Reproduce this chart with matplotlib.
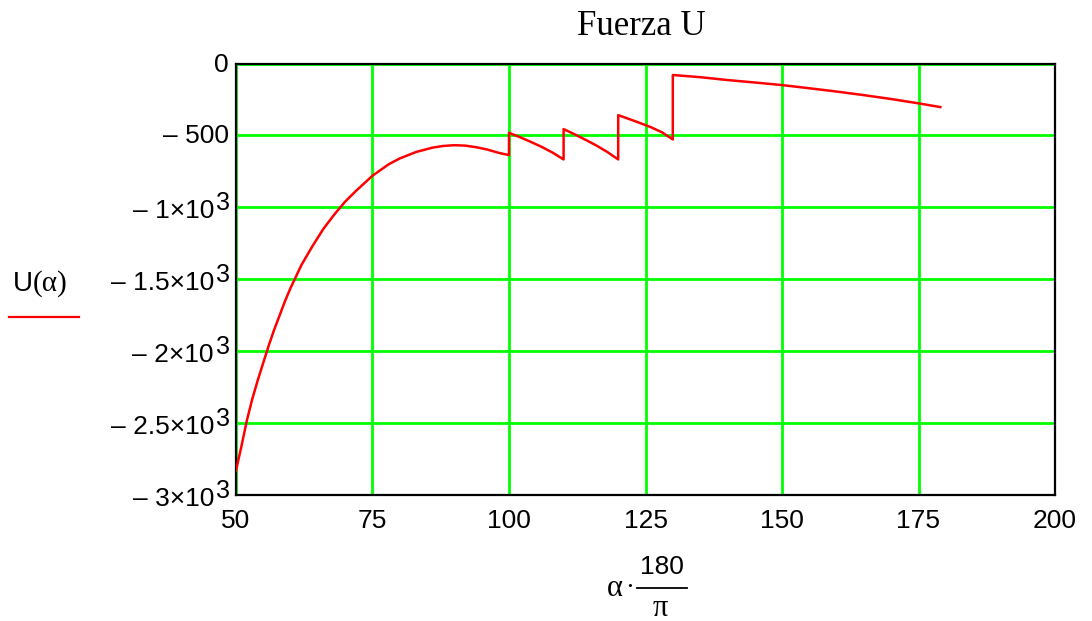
import numpy as np
import matplotlib
matplotlib.use("Agg")
import matplotlib.pyplot as plt
import matplotlib.transforms as mtransforms
from matplotlib.lines import Line2D

# U(alpha) sampled against alpha in degrees; repeated angles are the jumps
angle_deg = [50, 51, 52, 53, 54, 55, 56, 57, 58, 59, 60, 62, 64, 66, 68, 70, 72,
             75, 78, 80, 83, 86, 88, 90, 92, 94, 96, 98, 100,
             100, 102, 104, 106, 108, 110,
             110, 112, 114, 116, 118, 120,
             120, 122, 124, 126, 128, 130,
             130, 135, 140, 145, 150, 155, 160, 165, 170, 175, 179]
force_u = [-2830, -2660, -2480, -2330, -2200, -2080, -1960, -1850, -1750, -1650,
           -1560, -1400, -1270, -1150, -1050, -960, -885,
           -780, -700, -660, -615, -585, -573, -568, -571, -582, -598, -620, -637,
           -482, -512, -545, -580, -620, -667,
           -456, -492, -530, -570, -615, -667,
           -359, -386, -414, -443, -478, -528,
           -80, -95, -115, -132, -150, -172, -195, -220, -247, -277, -303]

x_ticks = [50, 75, 100, 125, 150, 175, 200]
y_ticks = [0, -500, -1000, -1500, -2000, -2500, -3000]
# (mantissa text, exponent) for each y tick
y_labels = [("0", None), ("\u2013 500", None), ("\u2013 1\u00d710", "3"),
            ("\u2013 1.5\u00d710", "3"), ("\u2013 2\u00d710", "3"),
            ("\u2013 2.5\u00d710", "3"), ("\u2013 3\u00d710", "3")]

sans = "Liberation Sans"
serif = "Liberation Serif"

fig = plt.figure(figsize=(10.92, 6.21), dpi=100)
ax = fig.add_axes([236 / 1092, 126 / 621, 819 / 1092, 431.5 / 621])

ax.plot(angle_deg, force_u, color="#ff0000", lw=1.8, zorder=3)

ax.set_xlim(50, 200)
ax.set_ylim(-3000, 0)
ax.set_xticks(x_ticks)
ax.set_yticks(y_ticks)
ax.grid(True, color="#00ff00", lw=2)
ax.tick_params(length=0, labelleft=False, pad=10)
for lab in ax.get_xticklabels():
    lab.set_fontfamily(sans)
    lab.set_fontsize(19)
for sp in ax.spines.values():
    sp.set_linewidth(1.6)
    sp.set_color("black")

# y tick labels in engineering style with a raised exponent
for val, (txt, exp) in zip(y_ticks, y_labels):
    if exp is None:
        tr = mtransforms.offset_copy(ax.get_yaxis_transform(), fig, x=-7, y=-1, units="dots")
        ax.text(0, val, txt, transform=tr, ha="right", va="center",
                fontsize=19, family=sans)
    else:
        tr = mtransforms.offset_copy(ax.get_yaxis_transform(), fig, x=-22, y=-11, units="dots")
        ax.text(0, val, txt, transform=tr, ha="right", va="baseline",
                fontsize=19, family=sans)
        tr2 = mtransforms.offset_copy(ax.get_yaxis_transform(), fig, x=-20, y=-3, units="dots")
        ax.text(0, val, exp, transform=tr2, ha="left", va="baseline",
                fontsize=18, family=sans)

# title
fig.text(641 / 1092, 1 - 35 / 621, "Fuerza U", ha="center", va="baseline",
         fontsize=25, family=serif)

# y label with legend line
fig.text(13 / 1092, 1 - 284 / 621, "U", ha="left", va="center",
         fontsize=20, family=sans)
fig.text(33 / 1092, 1 - 284 / 621, "(\u03b1)", ha="left", va="center",
         fontsize=21, family=serif)
fig.add_artist(Line2D([9 / 1092, 79 / 1092], [1 - 317 / 621, 1 - 317 / 621],
                      color="#ff0000", lw=1.6, transform=fig.transFigure))

# x label: alpha * 180 / pi
fig.text(615 / 1092, 1 - 588 / 621, "\u03b1", ha="center", va="center",
         fontsize=22, family=serif)
fig.text(630 / 1092, 1 - 588 / 621, "\u00b7", ha="center", va="center",
         fontsize=19, family=serif)
fig.text(662 / 1092, 1 - 567 / 621, "180", ha="center", va="center",
         fontsize=19, family=sans)
fig.add_artist(Line2D([637 / 1092, 687 / 1092], [1 - 588 / 621, 1 - 588 / 621],
                      color="black", lw=1.3, transform=fig.transFigure))
fig.text(660 / 1092, 1 - 608 / 621, "\u03c0", ha="center", va="center",
         fontsize=22, family=serif)

fig.savefig("out.png", dpi=100, facecolor="white")
